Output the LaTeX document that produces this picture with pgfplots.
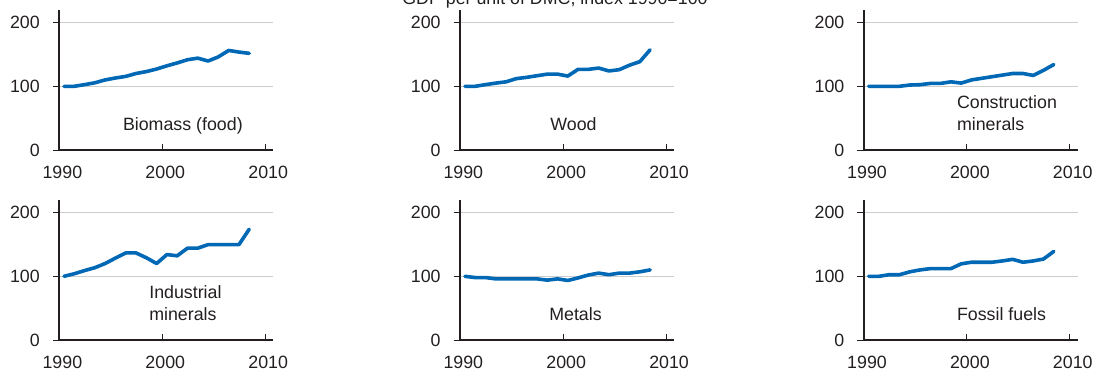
\documentclass[border=0pt]{standalone}
\usepackage{pgfplots}
\pgfplotsset{compat=1.18}
\usepackage{pgfplotstable}
\usepackage{fontspec}
\setmainfont{Liberation Sans}

\definecolor{oecdblue}{RGB}{0,104,180}
\definecolor{txt}{RGB}{35,31,32}
\definecolor{gridgray}{RGB}{205,205,205}

% GDP per unit of DMC, index 1990=100
\pgfplotstableread{
year  bio    wood   cons   ind    met    fos
1990  100    100    100    100    100    100
1991  100    100    100    104    98     100
1992  102.6  102.6  100    109    98     102.5
1993  105.5  105    100    113.5  96     102.5
1994  110    107    102    120    96     107
1995  113    112    102.5  128.5  96     110
1996  115.5  114    104.5  136.5  96     112
1997  120    116.5  104.5  136.5  96     112
1998  123    119    107    129    94     112
1999  127    119    105    120    96     119.5
2000  132    116    110    134    93.5   122
2001  136.5  126.5  112.5  132    97.5   122
2002  141.5  126.5  115    144    102    122
2003  144    128.5  117.5  144    105    124
2004  139.5  124    120    149.5  102.5  126.5
2005  146    126    120    149.5  105    122
2006  156    133    117    149.5  105    124
2007  153.5  138.5  125    149.5  107    127
2008  151.5  157    134    173.5  110    139
}\dmc

\tikzset{lbl/.style={font=\fontsize{8.9}{10}\selectfont, text=txt, inner sep=0pt}}

\pgfplotsset{
  panel/.style={
    scale only axis, width=107pt, height=70.4pt,
    anchor=south west, clip=false,
    xmin=1990, xmax=2010.8, ymin=0, ymax=220,
    axis x line*=bottom, axis y line*=left,
    axis line style={-, line width=1pt, color=txt},
    xtick={1990,2000,2010}, ytick={0,100,200},
    xtick align=inside, ytick align=outside,
    major tick length=3.3pt,
    tick style={line width=0.5pt, color=txt},
    ymajorgrids, major grid style={line width=0.6pt, gridgray},
    /pgf/number format/1000 sep={},
    /pgf/number format/assume math mode=true,
    tick label style={font=\fontsize{8.9}{10}\selectfont, text=txt},
    xticklabel style={yshift=-4.5pt, xshift=1.5pt},
    yticklabel style={xshift=-3pt},
  },
  dmc/.style={oecdblue, line width=1.8pt, line cap=round, line join=round},
}

\begin{document}
\begin{tikzpicture}
\node[lbl, anchor=base] at (277.5pt,186.3pt) {GDP per unit of DMC, index 1990=100};

% top row
\begin{axis}[panel, at={(29.7pt,113.35pt)}]
\addplot[dmc] table[x expr=\thisrow{year}+0.45, y=bio] {\dmc};
\node[lbl, anchor=base] at (axis cs:2002,30.2) {Biomass (food)};
\end{axis}

\begin{axis}[panel, at={(230.15pt,113.35pt)}]
\addplot[dmc] table[x expr=\thisrow{year}+0.45, y=wood] {\dmc};
\node[lbl, anchor=base] at (axis cs:2001,30.2) {Wood};
\end{axis}

\begin{axis}[panel, at={(432pt,113.35pt)}]
\addplot[dmc] table[x expr=\thisrow{year}+0.45, y=cons] {\dmc};
\node[lbl, anchor=base west] at (axis cs:1999,65.6) {Construction};
\node[lbl, anchor=base west] at (axis cs:1999,30.2) {minerals};
\end{axis}

% bottom row
\begin{axis}[panel, at={(29.7pt,18.35pt)}]
\addplot[dmc] table[x expr=\thisrow{year}+0.45, y=ind] {\dmc};
\node[lbl, anchor=base west] at (axis cs:1998.7,65.6) {Industrial};
\node[lbl, anchor=base west] at (axis cs:1998.7,30.2) {minerals};
\end{axis}

\begin{axis}[panel, at={(230.15pt,18.35pt)}]
\addplot[dmc] table[x expr=\thisrow{year}+0.45, y=met] {\dmc};
\node[lbl, anchor=base] at (axis cs:2001.2,30.2) {Metals};
\end{axis}

\begin{axis}[panel, at={(432pt,18.35pt)}]
\addplot[dmc] table[x expr=\thisrow{year}+0.45, y=fos] {\dmc};
\node[lbl, anchor=base west] at (axis cs:1999,30.2) {Fossil fuels};
\end{axis}

\pgfresetboundingbox
\path[use as bounding box] (0,0) rectangle (549.5pt,188.5pt);
\end{tikzpicture}
\end{document}
